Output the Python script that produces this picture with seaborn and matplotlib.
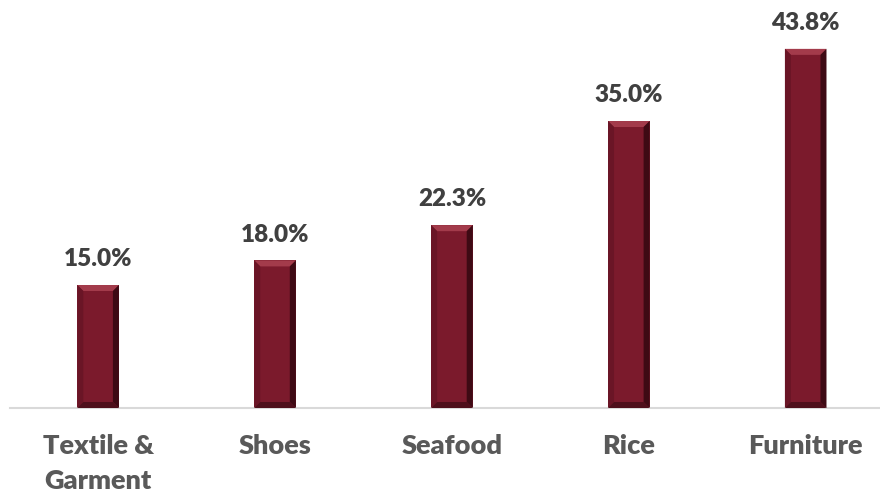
import seaborn as sns
import matplotlib.pyplot as plt
from matplotlib.patches import Polygon
import numpy as np
import pandas as pd

categories = ["Textile &\nGarment", "Shoes", "Seafood", "Rice", "Furniture"]
values = [15.0, 18.0, 22.3, 35.0, 43.8]
value_labels = ["15.0%", "18.0%", "22.3%", "35.0%", "43.8%"]

bar_color = "#7B1A2C"

df = pd.DataFrame({"category": categories, "value": values})

sns.set_style("white")
plt.rcParams['font.family'] = ['Lato', 'DejaVu Sans']

fig = plt.figure(figsize=(8.8, 4.92), dpi=100)
ax = fig.add_axes([0.011, 0.1707, 0.989, 0.8293])

sns.barplot(data=df, x="category", y="value", color=bar_color,
            width=0.235, saturation=1, ax=ax, edgecolor="none")

ax.set_xlim(-0.5, 4.42)
ax.set_ylim(0, 49.76)
fig.canvas.draw()

# bevel effect on each bar
inv = ax.transData.inverted()
bev = 6  # px
for p in ax.patches:
    x0, y0 = p.get_x(), p.get_y()
    x1, y1 = x0 + p.get_width(), y0 + p.get_height()
    (px0, py0) = ax.transData.transform((x0, y0))
    (px1, py1) = ax.transData.transform((x1, y1))
    ix0, iy0 = inv.transform((px0 + bev, py0 + bev))
    ix1, iy1 = inv.transform((px1 - bev, py1 - bev))
    # top face (lighter)
    ax.add_patch(Polygon([(x0, y1), (x1, y1), (ix1, iy1), (ix0, iy1)],
                         closed=True, color="#A33B4B", lw=0, zorder=3))
    # right face (dark)
    ax.add_patch(Polygon([(x1, y1), (x1, y0), (ix1, iy0), (ix1, iy1)],
                         closed=True, color="#3E0A14", lw=0, zorder=3))
    # left face
    ax.add_patch(Polygon([(x0, y1), (x0, y0), (ix0, iy0), (ix0, iy1)],
                         closed=True, color="#6A1526", lw=0, zorder=3))
    # bottom face
    ax.add_patch(Polygon([(x0, y0), (x1, y0), (ix1, iy0), (ix0, iy0)],
                         closed=True, color="#4E0F1B", lw=0, zorder=3))

for i, (v, lab) in enumerate(zip(values, value_labels)):
    ax.annotate(lab, (i, v), xytext=(0, 13.5), textcoords="offset points",
                ha="center", va="baseline", fontsize=17.5, fontweight="heavy",
                color="#404040")

ax.set_xlabel("")
ax.set_ylabel("")
ax.set_yticks([])
ax.tick_params(axis="x", length=0, pad=19)
for t in ax.get_xticklabels():
    t.set_fontsize(19.5)
    t.set_fontweight("heavy")
    t.set_color("#595959")
    t.set_linespacing(1.55)
    t.set_verticalalignment("top")

for s in ["top", "right", "left"]:
    ax.spines[s].set_visible(False)
ax.spines["bottom"].set_color("#D9D9D9")
ax.spines["bottom"].set_linewidth(1.5)

fig.savefig("out.png", dpi=100)
